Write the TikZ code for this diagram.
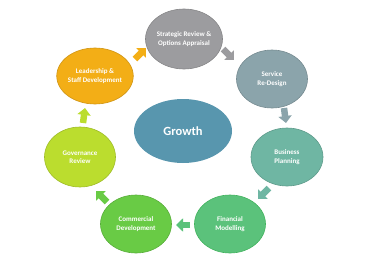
\documentclass[tikz,border=0pt]{standalone}
\usepackage{fontspec}
\setmainfont{Carlito}
\usetikzlibrary{shapes.geometric,arrows.meta,calc}
\definecolor{cStrat}{HTML}{9C9C9F}
\definecolor{cServ}{HTML}{8BA4AB}
\definecolor{cBus}{HTML}{6FB6A3}
\definecolor{cFin}{HTML}{5BC27B}
\definecolor{cFinB}{HTML}{42B35E}
\definecolor{cCom}{HTML}{69CB45}
\definecolor{cGov}{HTML}{BBDD2E}
\definecolor{cLead}{HTML}{F3AE16}
\definecolor{cGrow}{HTML}{5896AE}
\begin{document}
\begin{tikzpicture}[x=1pt,y=-1pt,
  bub/.style={ellipse, inner sep=0pt, minimum width=71pt, minimum height=58pt,
    text=white, font=\bfseries\fontsize{7}{8.5}\selectfont, align=center, line width=0.6pt},
  conn/.style={line width=6.5pt, -{Triangle[width=13pt,length=7pt]}}]
\useasboundingbox (0,0) rectangle (365,260);
\node[bub, fill=cStrat, draw=cStrat!85!black, minimum width=72pt, minimum height=60pt] (sr) at (184,39) {Strategic Review \&\\Options Appraisal};
\node[bub, fill=cServ, draw=cServ!85!black] (sd) at (272,79) {Service\\Re-Design};
\node[bub, fill=cBus, draw=cBus!85!black, minimum width=72pt] (bp) at (287,157) {Business\\Planning};
\node[bub, fill=cFin, draw=cFinB] (fm) at (230,224) {Financial\\Modelling};
\node[bub, fill=cCom, draw=cCom!85!black] (cd) at (136,224) {Commercial\\Development};
\node[bub, fill=cGov, draw=cGov!85!black, minimum height=60pt] (gr) at (80,157) {Governance\\Review};
\node[bub, fill=cLead, draw=cLead!85!black, minimum height=56pt] (ld) at (95,76) {Leadership \&\\Staff Development};
\node[ellipse, inner sep=0pt, minimum width=98pt, minimum height=64pt, fill=cGrow,
  text=white, font=\bfseries\fontsize{12.5}{14}\selectfont] (g) at (183,131) {Growth};
\coordinate (a1s) at (135,59); \coordinate (a1e) at (146,48);
\coordinate (a2s) at (223,49); \coordinate (a2e) at (234,60);
\coordinate (a3s) at (284,108); \coordinate (a3e) at (286,123);
\coordinate (a4s) at (269,188); \coordinate (a4e) at (258,199);
\coordinate (a5s) at (190,225); \coordinate (a5e) at (176,225);
\coordinate (a6s) at (107,202); \coordinate (a6e) at (96,191);
\coordinate (a7s) at (83,123); \coordinate (a7e) at (85,108);
\draw[conn, cLead] (a1s) -- (a1e);
\draw[conn, cStrat] (a2s) -- (a2e);
\draw[conn, cServ] (a3s) -- (a3e);
\draw[conn, cBus] (a4s) -- (a4e);
\draw[conn, cFin] (a5s) -- (a5e);
\draw[conn, cCom] (a6s) -- (a6e);
\draw[conn, cGov] (a7s) -- (a7e);
\end{tikzpicture}
\end{document}
